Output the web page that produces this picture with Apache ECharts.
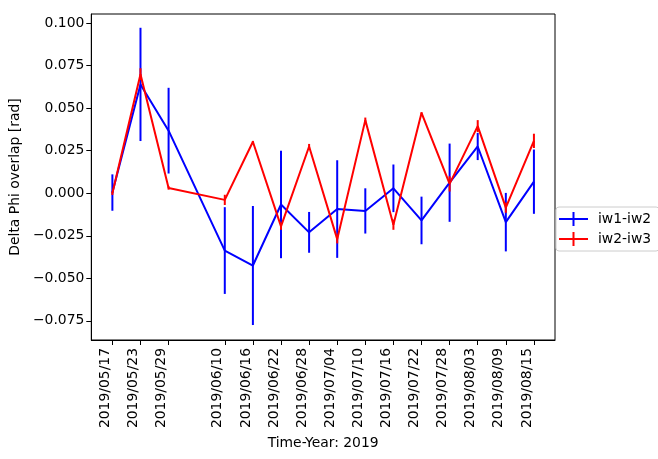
<!DOCTYPE html>
<html>
<head>
<meta charset="utf-8" />
<title>Delta Phi overlap</title>
<script src="https://cdn.jsdelivr.net/npm/echarts@6/dist/echarts.min.js"></script>
<style>
  html, body { margin: 0; padding: 0; background: #fff; }
  #chart { width: 658px; height: 459px; }
</style>
</head>
<body>
<div id="chart"></div>
<script>
// measurement dates
const dates = ['2019/05/17', '2019/05/23', '2019/05/29', '2019/06/10', '2019/06/16',
               '2019/06/22', '2019/06/28', '2019/07/04', '2019/07/10', '2019/07/16',
               '2019/07/22', '2019/07/28', '2019/08/03', '2019/08/09', '2019/08/15'];
// iw1-iw2 values and errors
const iw12 = [0.0004, 0.0640, 0.0368, -0.0337, -0.0425, -0.0066, -0.0230, -0.0093, -0.0104, 0.0029,
              -0.0160, 0.0062, 0.0275, -0.0170, 0.0068];
const iw12Err = [0.0107, 0.0333, 0.0252, 0.0255, 0.0350, 0.0316, 0.0120, 0.0287, 0.0133, 0.0140,
                 0.0140, 0.0230, 0.0080, 0.0172, 0.0189];
// iw2-iw3 values and errors
const iw23 = [0.0000, 0.0700, 0.0031, -0.0039, 0.0303, -0.0195, 0.0275, -0.0270, 0.0430, -0.0185,
              0.0472, 0.0055, 0.0395, -0.0085, 0.0308];
const iw23Err = [0.0010, 0.0035, 0.0010, 0.0030, 0.0005, 0.0020, 0.0015, 0.0025, 0.0015, 0.0030,
                 0.0005, 0.0045, 0.0035, 0.0030, 0.0042];
const yTicks = [-0.075, -0.05, -0.025, 0, 0.025, 0.05, 0.075, 0.1];

// days since first date
const t0 = Date.UTC(2019, 4, 17);
function dayOf(s) {
  const p = s.split('/');
  return (Date.UTC(+p[0], +p[1] - 1, +p[2]) - t0) / 86400000;
}
const days = dates.map(dayOf);
const span = days[days.length - 1] - days[0];

function lineData(vals) {
  return vals.map(function (v, i) { return [days[i], v]; });
}
function errData(vals, errs) {
  return vals.map(function (v, i) { return [days[i], v - errs[i], v + errs[i]]; });
}
function errRender(color) {
  return function (params, api) {
    const a = api.coord([api.value(0), api.value(1)]);
    const b = api.coord([api.value(0), api.value(2)]);
    return {
      type: 'line',
      shape: { x1: a[0], y1: a[1], x2: b[0], y2: b[1] },
      style: { stroke: color, lineWidth: 2 }
    };
  };
}

const crossIcon = 'path://M0,6L29,6L29,8L0,8Z M13.5,0L15.5,0L15.5,14L13.5,14Z';
const font = 'DejaVu Sans';
const fs = 13.9;

const chart = echarts.init(document.getElementById('chart'));
chart.setOption({
  animation: false,
  backgroundColor: '#fff',
  textStyle: { fontFamily: font },
  grid: {
    left: 90, right: 103, top: 14, bottom: 119,
    show: true, borderColor: '#000', borderWidth: 1
  },
  legend: {
    orient: 'vertical',
    left: 556, top: 207,
    backgroundColor: '#fff',
    borderColor: '#cccccc', borderWidth: 1, borderRadius: 3,
    padding: [5, 8, 5, 3],
    itemWidth: 29, itemHeight: 14, itemGap: 6,
    textStyle: { fontSize: fs, color: '#000', fontFamily: font, padding: [0, 0, 0, 5] },
    data: [
      { name: 'iw1-iw2', icon: crossIcon, itemStyle: { color: '#0000ff' } },
      { name: 'iw2-iw3', icon: crossIcon, itemStyle: { color: '#ff0000' } }
    ]
  },
  xAxis: {
    type: 'value',
    min: days[0] - span * 0.05,
    max: days[days.length - 1] + span * 0.05,
    name: 'Time-Year: 2019',
    nameLocation: 'middle',
    nameGap: 95,
    nameTextStyle: { fontSize: fs, color: '#000', fontFamily: font },
    splitLine: { show: false },
    axisLine: { onZero: false, lineStyle: { color: '#000', width: 1 } },
    axisTick: { show: true, length: 5, lineStyle: { color: '#000' }, customValues: days },
    axisLabel: {
      rotate: 90, fontSize: fs, color: '#000', margin: 8,
      verticalAlign: 'bottom',
      customValues: days,
      formatter: function (v) {
        const i = days.indexOf(v);
        return i >= 0 ? dates[i] : '';
      }
    }
  },
  yAxis: {
    type: 'value',
    min: -0.0863,
    max: 0.1054,
    name: 'Delta Phi overlap [rad]',
    nameLocation: 'middle',
    nameGap: 68,
    nameTextStyle: { fontSize: fs, color: '#000', fontFamily: font },
    splitLine: { show: false },
    axisLine: { show: true, onZero: false, lineStyle: { color: '#000', width: 1 } },
    axisTick: { show: true, length: 5, lineStyle: { color: '#000' }, customValues: yTicks },
    axisLabel: {
      fontSize: fs, color: '#000', margin: 7,
      customValues: yTicks,
      formatter: function (v) { return v.toFixed(3).replace('-', '\u2212'); }
    }
  },
  series: [
    {
      name: 'iw1-iw2', type: 'line', data: lineData(iw12),
      showSymbol: false, symbol: 'none',
      lineStyle: { color: '#0000ff', width: 2 }, itemStyle: { color: '#0000ff' }
    },
    {
      name: 'iw1-iw2', type: 'custom', data: errData(iw12, iw12Err),
      renderItem: errRender('#0000ff'), encode: { x: 0, y: [1, 2] },
      itemStyle: { color: '#0000ff' }
    },
    {
      name: 'iw2-iw3', type: 'line', data: lineData(iw23),
      showSymbol: false, symbol: 'none',
      lineStyle: { color: '#ff0000', width: 2 }, itemStyle: { color: '#ff0000' }
    },
    {
      name: 'iw2-iw3', type: 'custom', data: errData(iw23, iw23Err),
      renderItem: errRender('#ff0000'), encode: { x: 0, y: [1, 2] },
      itemStyle: { color: '#ff0000' }
    }
  ]
});
</script>
</body>
</html>
